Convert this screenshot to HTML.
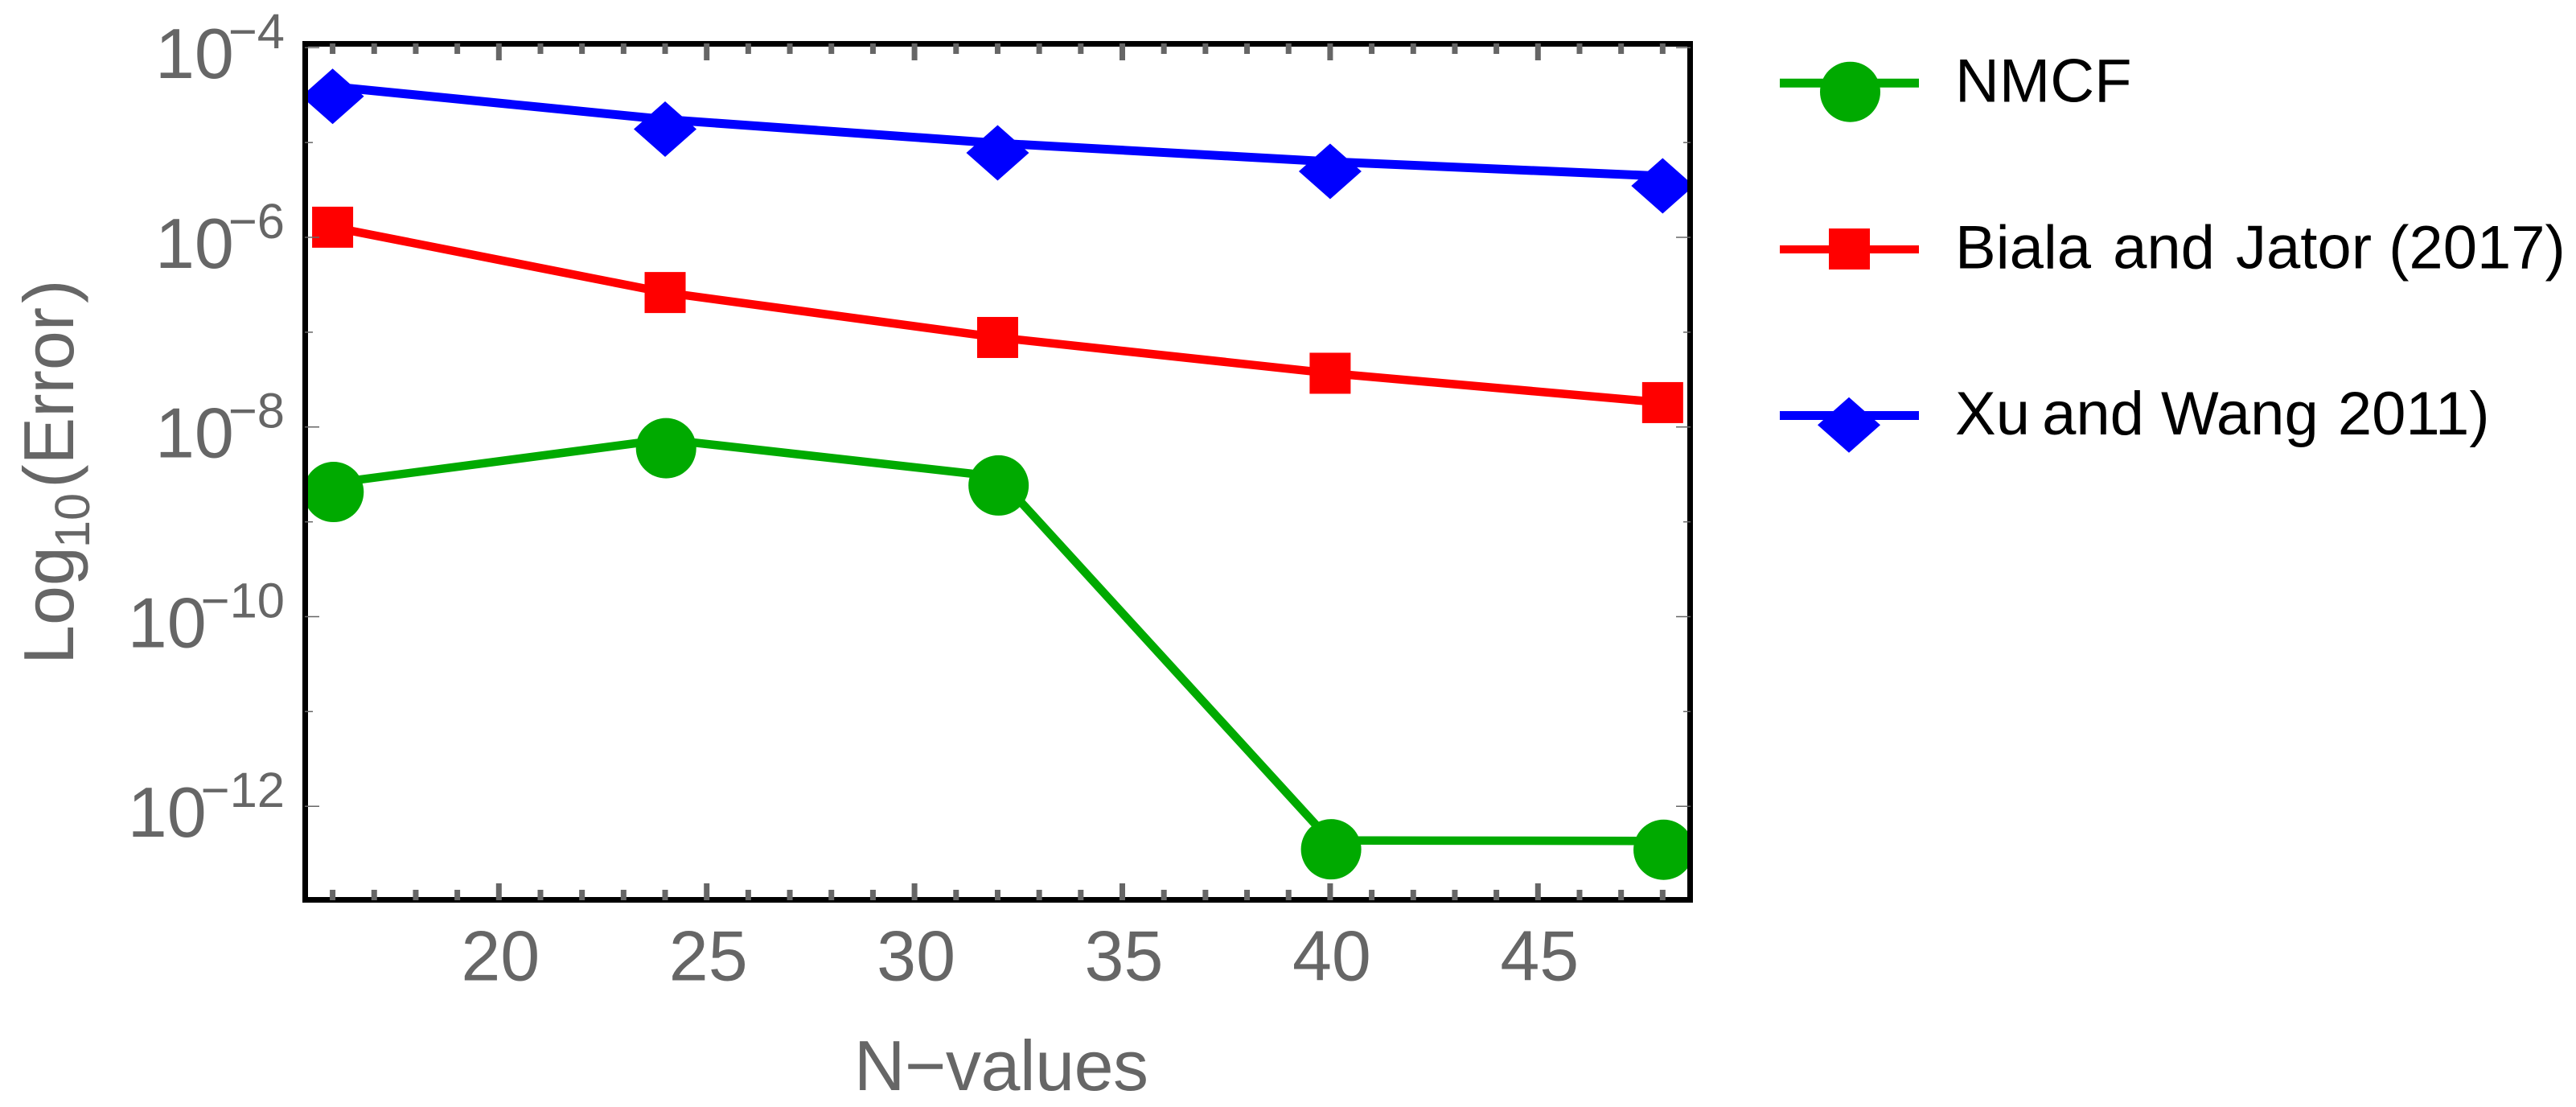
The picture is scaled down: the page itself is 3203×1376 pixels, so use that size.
<!DOCTYPE html>
<html lang="en">
<head>
<meta charset="utf-8">
<title>Log10(Error) versus N-values</title>
<style>
html,body{margin:0;padding:0;background:#fff;width:3203px;height:1376px;overflow:hidden}
svg{position:absolute;left:0;top:0;display:block}
text{font-family:"Liberation Sans",Arial,sans-serif}
.axis-text{fill:#666}
.legend-text{fill:#000;font-size:76px}
</style>
</head>
<body>
<svg id="chart" xmlns="http://www.w3.org/2000/svg" width="3203" height="1376" viewBox="0 0 3203 1376">
  <defs>
    <clipPath id="plot-clip"><rect x="383" y="58" width="1715" height="1057"/></clipPath>
  </defs>
  <rect x="0" y="0" width="3203" height="1376" fill="#fff"/>
  <g id="series-layer" clip-path="url(#plot-clip)"></g>
  <rect x="379.5" y="54.5" width="1722" height="1064" fill="none" stroke="#000" stroke-width="7"/>
  <g id="tick-layer"></g>
  <g id="label-layer"></g>

  <text class="axis-text" x="1061.9" y="1355" font-size="88" letter-spacing="-0.45">N−values</text>
  <text class="axis-text" transform="translate(91,826) rotate(-90)" font-size="88">Log<tspan font-size="61.5" dx="-2" dy="20">10</tspan><tspan dx="6" dy="-20">(Error</tspan><tspan dx="5">)</tspan></text>

  <g>
    <g>
      <line x1="2213" x2="2386" y1="103.3" y2="103.3" stroke="#00aa00" stroke-width="11"/>
      <circle cx="2300.5" cy="114.2" r="37.5" fill="#00aa00"/>
      <text class="legend-text" x="2431" y="126.5">NMCF</text>
    </g>
    <g>
      <line x1="2213" x2="2386" y1="310" y2="310" stroke="#ff0000" stroke-width="10"/>
      <rect x="2274" y="284" width="51" height="51" fill="#ff0000"/>
      <text class="legend-text" x="2431" y="333.5">Biala<tspan dx="6"> and</tspan><tspan dx="5"> Jator</tspan> (2017)</text>
    </g>
    <g>
      <line x1="2213" x2="2386" y1="516.5" y2="516.5" stroke="#0000ff" stroke-width="11"/>
      <polygon points="2299,493.8 2338,528.3 2299,562.8 2260,528.3" fill="#0000ff"/>
      <text class="legend-text" x="2431" y="540">Xu<tspan dx="-6"> and</tspan> Wang<tspan dx="3"> 2011)</tspan></text>
    </g>
  </g>
</svg>
<script>
const categories = [16, 24, 32, 40, 48];
const nmcfValues = [2.56e-9, 7.41e-9, 3.0e-9, 4.37e-13, 4.32e-13];
const bialaJatorValues = [1.28e-6, 2.62e-7, 8.8e-8, 3.69e-8, 1.81e-8];
const xuWangValues = [3.88e-5, 1.75e-5, 9.84e-6, 6.28e-6, 4.42e-6];
const xTickLabels = [20, 25, 30, 35, 40, 45];
const yTickExponents = [-4, -6, -8, -10, -12];
const yMinorExponents = [-5, -7, -9, -11];
const xMinorValues = [16, 17, 18, 19, 21, 22, 23, 24, 26, 27, 28, 29, 31, 32, 33, 34, 36, 37, 38, 39, 41, 42, 43, 44, 46, 47, 48];

const NS = 'http://www.w3.org/2000/svg';
function xScale(v) { return 620.3 + 51.68 * (v - 20); }
function yScaleExp(e) { return 59.3 + 117.875 * (-4 - e); }
function yScale(v) { return yScaleExp(Math.log10(v)); }
function make(tag, parent) {
  const el = document.createElementNS(NS, tag);
  parent.appendChild(el);
  return el;
}
function setAttrs(el, attrs) {
  Object.keys(attrs).forEach(function (k) { el.setAttribute(k, attrs[k]); });
}

const seriesLayer = document.getElementById('series-layer');
const tickLayer = document.getElementById('tick-layer');
const labelLayer = document.getElementById('label-layer');

function drawLine(values, color, width, name) {
  const line = make('polyline', seriesLayer);
  
  
  setAttrs(line, {
    points: values.map(function (v, i) { return xScale(categories[i]) + ',' + yScale(v); }).join(' '),
    fill: 'none', stroke: color, 'stroke-width': width, 'stroke-linejoin': 'miter'
  });
}
drawLine(nmcfValues, '#00aa00', 10.5, 'series-line-nmcf');
drawLine(bialaJatorValues, '#ff0000', 10.5, 'series-line-biala-jator');
drawLine(xuWangValues, '#0000ff', 11, 'series-line-xu-wang');

nmcfValues.forEach(function (v, i) {
  const c = make('circle', seriesLayer);
  
  
  setAttrs(c, { cx: xScale(categories[i]) + 1.2, cy: yScale(v) + 11, r: 37.5, fill: '#00aa00' });
});
bialaJatorValues.forEach(function (v, i) {
  const r = make('rect', seriesLayer);
  
  
  setAttrs(r, { x: xScale(categories[i]) - 25.5, y: yScale(v) - 25.5, width: 51, height: 51, fill: '#ff0000' });
});
xuWangValues.forEach(function (v, i) {
  const cx = xScale(categories[i]);
  const cy = yScale(v) + 12;
  const d = make('polygon', seriesLayer);
  
  
  setAttrs(d, {
    points: cx + ',' + (cy - 34.5) + ' ' + (cx + 39) + ',' + cy + ' ' + cx + ',' + (cy + 34.5) + ' ' + (cx - 39) + ',' + cy,
    fill: '#0000ff'
  });
});

function xTick(v, major) {
  const x = xScale(v);
  const b = make('rect', tickLayer);
  
  
  setAttrs(b, { x: x - 3.5, y: major ? 1098 : 1106, width: 7, height: major ? 21 : 13, fill: '#666' });
  const t = make('rect', tickLayer);
  
  
  setAttrs(t, { x: x - 3.5, y: 54, width: 7, height: major ? 21 : 13, fill: '#666' });
}
xTickLabels.forEach(function (v) { xTick(v, true); });
xMinorValues.forEach(function (v) { xTick(v, false); });

function yTick(e, major) {
  const y = yScaleExp(e);
  const l = make('line', tickLayer);
  
  
  setAttrs(l, { x1: 379, x2: major ? 397 : 389, y1: y, y2: y, stroke: '#666', 'stroke-width': 1.5 });
  const r = make('line', tickLayer);
  
  
  setAttrs(r, { x1: major ? 2084 : 2093, x2: 2102, y1: y, y2: y, stroke: '#666', 'stroke-width': 1.5 });
}
yTickExponents.forEach(function (e) { yTick(e, true); });
yMinorExponents.forEach(function (e) { yTick(e, false); });

xTickLabels.forEach(function (v) {
  const t = make('text', labelLayer);
  
  
  setAttrs(t, { x: xScale(v) + 2, y: 1218.5, 'font-size': 88, 'text-anchor': 'middle', class: 'axis-text' });
  t.textContent = String(v);
});

yTickExponents.forEach(function (e) {
  const y = yScaleExp(e);
  const t = make('text', labelLayer);
  
  
  setAttrs(t, { x: 354, y: y + 37.8, 'font-size': 88, 'text-anchor': 'end', class: 'axis-text' });
  t.appendChild(document.createTextNode('10'));
  const s = make('tspan', t);
  
  
  setAttrs(s, { 'font-size': 61.5, dx: -7, dy: -37 });
  s.textContent = '\u2212' + Math.abs(e);
});
</script>
</body>
</html>
